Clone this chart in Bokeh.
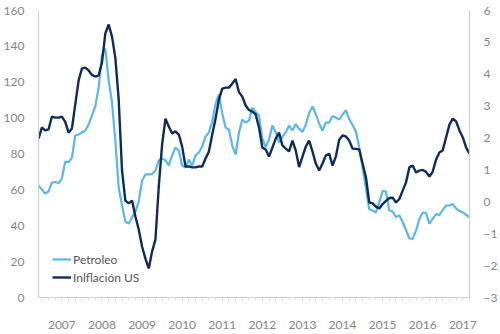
from bokeh.plotting import figure
from bokeh.models import Range1d, LinearAxis, FixedTicker, Legend, LegendItem, ColumnDataSource
from bokeh.embed import file_html
from bokeh.resources import INLINE

# Monthly observations, Nov 2006 .. Aug 2017 (month index 0..129)
petroleo = [62.4, 60.2, 58.0, 59.1, 64.1, 64.4, 63.8, 66.3, 75.8, 75.3,
            78.0, 90.3, 90.9, 92.0, 93.1, 96.4, 101.4, 106.5, 117.1, 134.9,
            138.8, 121.0, 108.7, 87.5, 61.3, 51.3, 42.4, 41.2, 44.6, 47.9,
            53.5, 65.2, 68.6, 68.6, 68.8, 70.8, 76.4, 77.5, 76.4, 73.6,
            79.2, 83.6, 81.9, 73.6, 72.5, 76.9, 73.6, 79.2, 80.8, 84.2,
            89.7, 92.0, 98.1, 108.1, 113.2, 102.6, 94.8, 93.6, 84.7, 79.7,
            92.0, 99.2, 97.5, 98.7, 105.9, 103.4, 101.4, 88.6, 83.9, 88.1,
            95.9, 92.3, 86.4, 89.7, 92.0, 95.9, 93.1, 96.7, 94.0, 92.3,
            96.4, 102.8, 106.5, 102.3, 97.0, 93.1, 97.5, 97.5, 101.2, 100.3,
            99.2, 102.0, 104.5, 99.5, 96.2, 92.5, 83.6, 72.5, 60.8, 49.1,
            48.5, 47.4, 53.0, 59.4, 59.1, 48.5, 47.9, 44.9, 45.7, 42.1,
            37.6, 32.9, 32.7, 37.3, 43.8, 47.4, 47.1, 41.2, 44.0, 46.5,
            46.0, 48.8, 51.3, 51.3, 52.1, 49.6, 48.2, 47.4, 46.0, 44.9]

inflacion = [1.98, 2.33, 2.24, 2.27, 2.67, 2.64, 2.64, 2.67, 2.51, 2.17,
             2.30, 3.05, 3.80, 4.18, 4.21, 4.12, 3.98, 3.93, 3.96, 4.37,
             5.28, 5.56, 5.18, 4.52, 3.21, 0.98, 0.04, -0.05, 0.04, -0.46,
             -0.87, -1.40, -1.78, -2.09, -1.56, -1.18, 0.48, 1.80, 2.61, 2.36,
             2.14, 2.21, 2.11, 1.73, 1.11, 1.11, 1.08, 1.08, 1.11, 1.11,
             1.36, 1.58, 2.11, 2.61, 3.21, 3.55, 3.58, 3.58, 3.71, 3.85,
             3.44, 3.30, 3.02, 2.88, 2.83, 2.74, 2.33, 1.70, 1.64, 1.42,
             1.70, 1.98, 2.17, 1.77, 1.67, 1.58, 1.92, 1.61, 1.09, 1.42,
             1.73, 1.92, 1.58, 1.20, 0.98, 1.20, 1.45, 1.51, 1.14, 1.42,
             1.95, 2.08, 2.05, 1.92, 1.67, 1.66, 1.64, 1.20, 0.77, -0.02,
             -0.05, -0.15, -0.21, -0.07, 0.03, 0.12, 0.13, -0.02, 0.09, 0.35,
             0.61, 1.08, 1.14, 0.92, 0.98, 1.00, 0.94, 0.79, 0.95, 1.33,
             1.55, 1.62, 2.02, 2.42, 2.61, 2.52, 2.24, 2.02, 1.70, 1.51]

year_labels = ["2007", "2008", "2009", "2010", "2011", "2012",
               "2013", "2014", "2015", "2016", "2017"]
year_positions = [7, 19, 31, 43, 55, 67, 79, 91, 103, 115, 127]  # June of each year
left_ticks = [0, 20, 40, 60, 80, 100, 120, 140, 160]
right_ticks = [-3, -2, -1, 0, 1, 2, 3, 4, 5, 6]

months = list(range(len(petroleo)))
src = ColumnDataSource(dict(m=months, oil=petroleo, cpi=inflacion))

LIGHT = "#5ab7e6"
DARK = "#0e2c57"
AXIS = "#cfcfcf"
TXT = "#858585"
FONT = "Lato"

p = figure(width=500, height=334, output_backend="svg", toolbar_location=None,
           x_range=Range1d(0, len(months) - 1), y_range=Range1d(0, 160),
           min_border_left=29, min_border_right=28, min_border_top=10,
           min_border_bottom=37, x_axis_location=None, y_axis_location=None)
p.outline_line_color = None
p.xgrid.visible = False
p.ygrid.visible = False
p.background_fill_color = "white"
p.border_fill_color = "white"

p.extra_y_ranges = {"infl": Range1d(-3, 6)}

r_oil = p.line("m", "oil", source=src, color=LIGHT, line_width=2.2)
r_cpi = p.line("m", "cpi", source=src, color=DARK, line_width=2.4, y_range_name="infl")

def style(ax):
    ax.axis_line_color = AXIS
    ax.axis_line_width = 1.2
    ax.major_tick_line_color = None
    ax.minor_tick_line_color = None
    ax.major_label_text_color = TXT
    ax.major_label_text_font = FONT
    ax.major_label_text_font_size = "12px"

left = LinearAxis(ticker=FixedTicker(ticks=left_ticks))
style(left)
left.major_label_standoff = 8
p.add_layout(left, "left")

right = LinearAxis(y_range_name="infl", ticker=FixedTicker(ticks=right_ticks))
style(right)
right.major_label_standoff = 8
p.add_layout(right, "right")

bottom = LinearAxis(ticker=FixedTicker(ticks=year_positions,
                                       minor_ticks=list(range(1, len(months), 2))))
style(bottom)
bottom.major_label_overrides = {pos: lab for pos, lab in zip(year_positions, year_labels)}
bottom.major_tick_line_color = "#dddddd"
bottom.minor_tick_line_color = "#dddddd"
bottom.major_tick_out = 3
bottom.major_tick_in = 0
bottom.minor_tick_out = 3
bottom.minor_tick_in = 0
bottom.major_label_standoff = 20
p.add_layout(bottom, "below")

legend = Legend(items=[LegendItem(label="Petroleo", renderers=[r_oil]),
                       LegendItem(label="Inlflación US", renderers=[r_cpi])],
                location=(12, 10), orientation="vertical")
legend.background_fill_alpha = 0
legend.border_line_alpha = 0
legend.padding = 2
legend.margin = 0
legend.spacing = 2
legend.glyph_width = 19
legend.glyph_height = 16
legend.label_height = 16
legend.label_standoff = 2
legend.label_text_font = FONT
legend.label_text_font_size = "12px"
legend.label_text_color = "#555555"
p.add_layout(legend, "center")

open("out.html", "w").write(file_html(p, INLINE))
